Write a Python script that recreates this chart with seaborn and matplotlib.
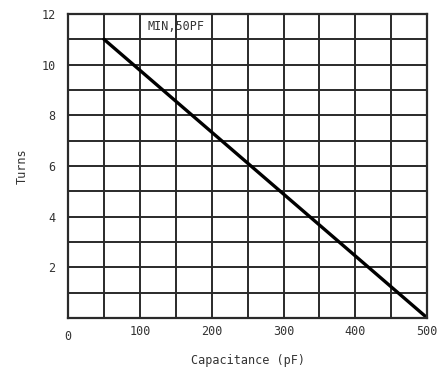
import pandas as pd
import seaborn as sns
import matplotlib.pyplot as plt
from matplotlib.transforms import ScaledTranslation

capacitance = [50, 500]
turns = [11, 0]
x_ticks = [0, 100, 200, 300, 400, 500]
y_ticks = [2, 4, 6, 8, 10, 12]

df = pd.DataFrame({"Capacitance (pF)": capacitance, "Turns": turns})

sns.set_style("white")
plt.rcParams["font.family"] = ["DejaVu Sans Mono", "DejaVu Sans"]

fig = plt.figure(figsize=(4.45, 3.78), dpi=100)
ax = fig.add_axes([0.153, 0.159, 0.807, 0.804])

sns.lineplot(data=df, x="Capacitance (pF)", y="Turns", color="black", linewidth=2.4, ax=ax)

ax.set_xlim(0, 500)
ax.set_ylim(0, 12)
ax.set_yticks(range(0, 13, 1))
ax.grid(True, color="#2a2a2a", linewidth=1.4)
ax.set_xticks(range(0, 501, 50))
ax.set_xticklabels([str(v) if v in x_ticks else "" for v in range(0, 501, 50)])
ax.set_yticklabels([str(v) if v in y_ticks else "" for v in range(0, 13)])
ax.tick_params(length=0, labelsize=8.5, labelcolor="#333333")
ax.tick_params(axis="x", pad=5)
ax.tick_params(axis="y", pad=9)
# the origin label sits a little lower than the rest
lab0 = ax.get_xticklabels()[0]
lab0.set_transform(lab0.get_transform() + ScaledTranslation(0, -0.05, fig.dpi_scale_trans))
for s in ax.spines.values():
    s.set_color("#2a2a2a")
    s.set_linewidth(1.6)

ax.set_xlabel("Capacitance (pF)", fontsize=8.5, color="#333333", labelpad=8)
ax.set_ylabel("Turns", fontsize=8.5, color="#333333", labelpad=9)
ax.text(150, 11.5, "MIN,50PF", ha="center", va="center", fontsize=8.5, color="#333333")

fig.savefig("out.png", dpi=100)
